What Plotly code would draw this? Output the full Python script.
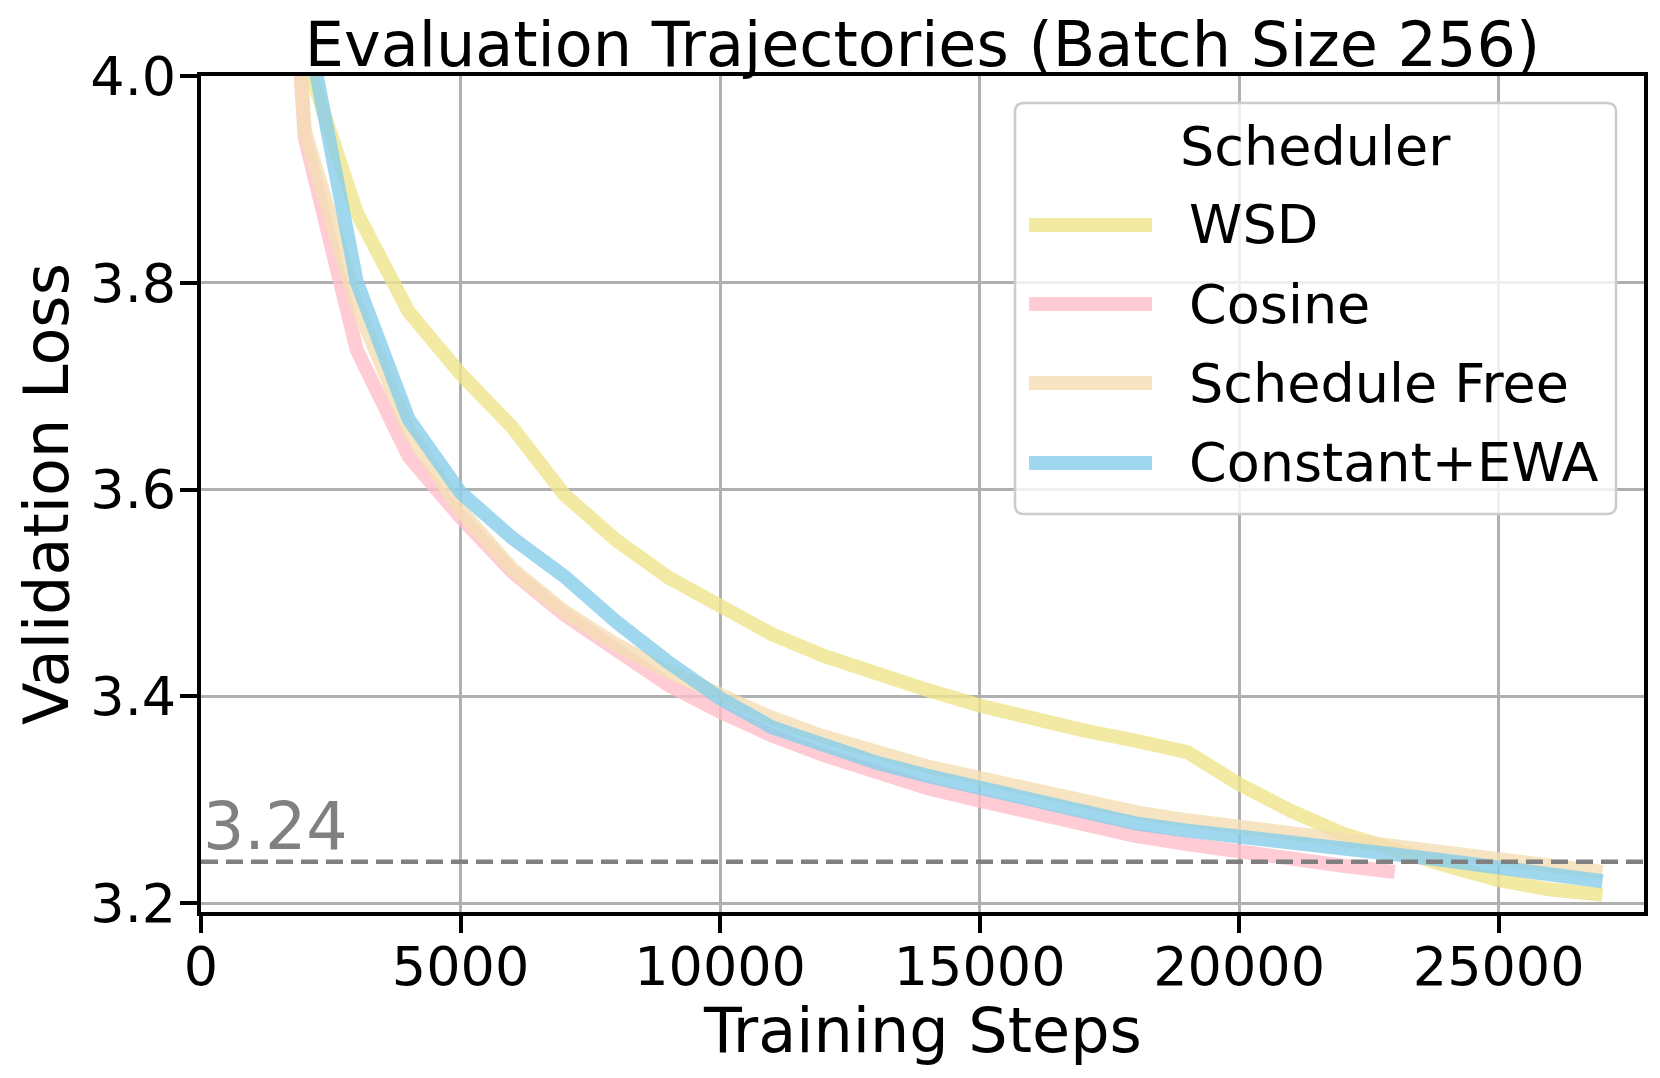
"""
Evaluation trajectories (batch size 256): validation loss vs training steps
for four LR schedulers, with the 3.24 target loss marked.
"""

import plotly.graph_objects as go

# ── data ─────────────────────────────────────────────────────────────
STEPS = [1000, 2000, 3000, 4000, 5000, 6000, 7000, 8000, 9000, 10000,
         11000, 12000, 13000, 14000, 15000, 16000, 17000, 18000, 19000,
         20000, 21000, 22000, 23000, 24000, 25000, 26000, 27000]
COSINE_STEPS = STEPS[:23]

WSD = [4.45, 4.02, 3.868, 3.772, 3.712, 3.660, 3.595, 3.551, 3.515, 3.487,
       3.460, 3.439, 3.421, 3.406, 3.391, 3.378, 3.367, 3.357, 3.346,
       3.315, 3.289, 3.267, 3.250, 3.236, 3.222, 3.213, 3.208]
COSINE = [4.70, 3.94, 3.735, 3.632, 3.573, 3.520, 3.479, 3.444, 3.411, 3.385,
          3.362, 3.343, 3.326, 3.311, 3.299, 3.287, 3.275, 3.265, 3.257,
          3.249, 3.243, 3.236, 3.230]
SCHEDULE_FREE = [4.70, 3.947, 3.778, 3.657, 3.580, 3.523, 3.482, 3.450, 3.424,
                 3.400, 3.379, 3.361, 3.346, 3.332, 3.321, 3.309, 3.298, 3.288,
                 3.280, 3.274, 3.268, 3.262, 3.255, 3.248, 3.241, 3.236, 3.230]
CONSTANT_EWA = [4.50, 4.06, 3.801, 3.668, 3.597, 3.553, 3.516, 3.472, 3.433,
                3.398, 3.370, 3.352, 3.336, 3.323, 3.311, 3.298, 3.286, 3.277,
                3.270, 3.265, 3.259, 3.253, 3.247, 3.241, 3.235, 3.228, 3.221]

TARGET_LOSS = 3.24

SERIES = [
    ("WSD", STEPS, WSD, "rgb(240,230,140)"),                 # khaki
    ("Cosine", COSINE_STEPS, COSINE, "rgb(255,192,203)"),    # pink
    ("Schedule Free", STEPS, SCHEDULE_FREE, "rgb(245,222,179)"),  # wheat
    ("Constant+EWA", STEPS, CONSTANT_EWA, "rgb(135,206,235)"),    # skyblue
]

FONT = "DejaVu Sans"
PAGE_W, PAGE_H = 1660, 1078
BODY_MARGIN = 8  # default <body> margin of the html page
W, H = PAGE_W - 2 * BODY_MARGIN, PAGE_H - 2 * BODY_MARGIN
# plot area in page pixels
PLOT_L, PLOT_R, PLOT_T, PLOT_B = 201, 1644, 76, 912


def px_x(px):
    return (px - PLOT_L) / (PLOT_R - PLOT_L)


def px_y(py):
    return (PLOT_B - py) / (PLOT_B - PLOT_T)


def main() -> None:
    fig = go.Figure()

    for name, xs, ys, color in SERIES:
        fig.add_trace(go.Scatter(
            x=xs, y=ys, name=name, mode="lines",
            line=dict(color=color, width=14),
            opacity=0.8,
            showlegend=False,
        ))

    # target loss line + label
    fig.add_hline(y=TARGET_LOSS, layer="above",
                  line=dict(color="#808080", width=4.5, dash="17px,8px"))
    fig.add_annotation(
        x=0, y=TARGET_LOSS, xref="x", yref="y",
        xanchor="left", yanchor="bottom", showarrow=False, yshift=-4,
        text=f"{TARGET_LOSS:.2f}",
        font=dict(family=FONT, size=65, color="#808080"),
    )

    # ── legend drawn by hand (matplotlib-style long handles) ─────────
    bx0, bx1 = px_x(1015), px_x(1616)
    by_top, by_bot = px_y(103), px_y(514)
    rx, ry = 9 / (PLOT_R - PLOT_L), 9 / (PLOT_B - PLOT_T)
    path = (
        f"M {bx0 + rx},{by_top} L {bx1 - rx},{by_top} "
        f"Q {bx1},{by_top} {bx1},{by_top - ry} L {bx1},{by_bot + ry} "
        f"Q {bx1},{by_bot} {bx1 - rx},{by_bot} L {bx0 + rx},{by_bot} "
        f"Q {bx0},{by_bot} {bx0},{by_bot + ry} L {bx0},{by_top - ry} "
        f"Q {bx0},{by_top} {bx0 + rx},{by_top} Z"
    )
    fig.add_shape(type="path", path=path, xref="paper", yref="paper",
                  layer="above", fillcolor="rgba(255,255,255,0.8)",
                  line=dict(color="#cccccc", width=2.5))
    fig.add_annotation(
        x=(bx0 + bx1) / 2, y=px_y(147), xref="paper", yref="paper",
        xanchor="center", yanchor="middle", showarrow=False,
        text="Scheduler", font=dict(family=FONT, size=54, color="black"),
    )
    row_y = [225, 304, 383, 463]
    for (name, _, _, color), ry_px in zip(SERIES, row_y):
        fig.add_shape(type="line", xref="paper", yref="paper", layer="above",
                      x0=px_x(1029), x1=px_x(1152), y0=px_y(ry_px), y1=px_y(ry_px),
                      line=dict(color=color, width=14), opacity=0.8)
        fig.add_annotation(
            x=px_x(1187), y=px_y(ry_px), xref="paper", yref="paper",
            xanchor="left", yanchor="middle", showarrow=False,
            text=name, font=dict(family=FONT, size=54, color="black"),
        )

    # x axis title as an annotation so it sits where matplotlib put it
    fig.add_annotation(
        x=0.5, y=px_y(1030), xref="paper", yref="paper",
        xanchor="center", yanchor="middle", showarrow=False,
        text="Training Steps", font=dict(family=FONT, size=62, color="black"),
    )

    axis_common = dict(
        showline=True, linecolor="black", linewidth=4, mirror=True,
        ticks="outside", ticklen=17, tickwidth=3.5, tickcolor="black",
        showgrid=True, gridcolor="#b0b0b0", gridwidth=2.7,
        zeroline=False, automargin=False,
        tickfont=dict(family=FONT, size=54, color="black"),
    )

    fig.update_layout(
        width=W, height=H,
        margin=dict(l=PLOT_L - BODY_MARGIN, r=W - (PLOT_R - BODY_MARGIN),
                    t=PLOT_T - BODY_MARGIN, b=H - (PLOT_B - BODY_MARGIN)),
        plot_bgcolor="white", paper_bgcolor="white",
        showlegend=False,
        title=dict(
            text="Evaluation Trajectories (Batch Size 256)",
            font=dict(family=FONT, size=62, color="black"),
            x=0.5, xref="paper", xanchor="center",
            y=1 - 36 / H, yref="container", yanchor="middle",
        ),
        xaxis=dict(
            range=[0, 27800], tickvals=[0, 5000, 10000, 15000, 20000, 25000],
            tickformat="d", ticklabelstandoff=-13,
            **axis_common,
        ),
        yaxis=dict(
            range=[3.1913, 4.0], tickvals=[3.2, 3.4, 3.6, 3.8, 4.0],
            tickformat=".1f", ticklabelstandoff=-7,
            title=dict(text="Validation Loss", standoff=3,
                       font=dict(family=FONT, size=62, color="black")),
            **axis_common,
        ),
    )

    fig.write_html("out.html")


if __name__ == "__main__":
    main()
